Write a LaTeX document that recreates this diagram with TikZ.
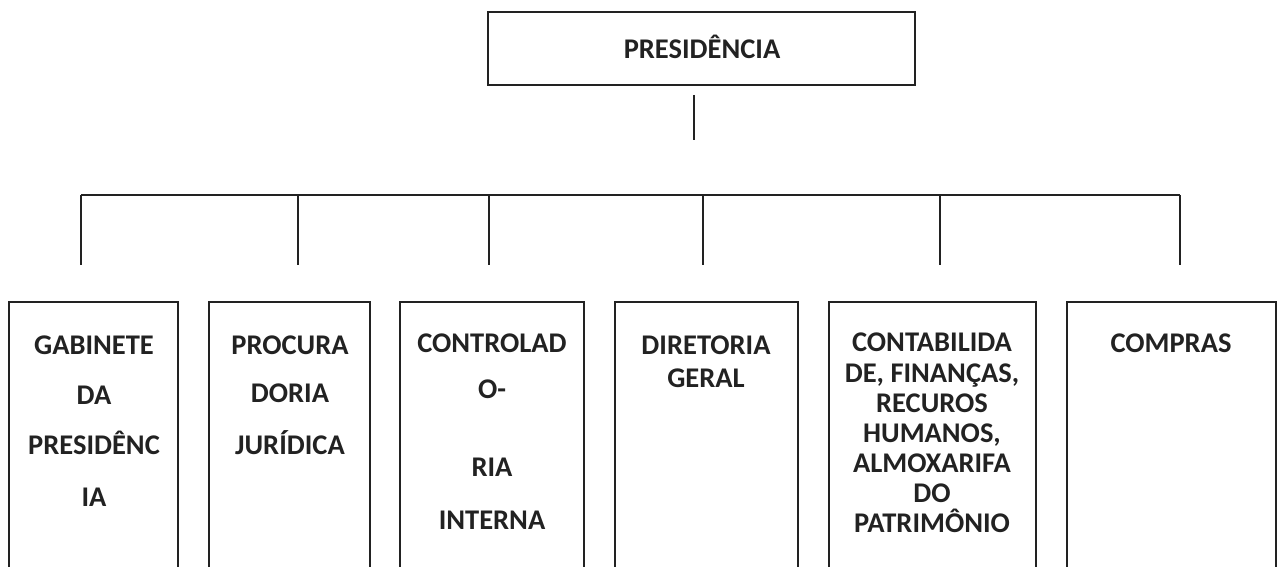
\documentclass[tikz,border=0pt]{standalone}
\usepackage{fontspec}
\setmainfont{Carlito}
\definecolor{ink}{HTML}{222222}
\begin{document}
\begin{tikzpicture}[x=1pt,y=-1pt,
  box/.style={draw=ink,line width=1.2pt},
  conn/.style={draw=ink,line width=1.4pt},
  lbl/.style={anchor=base,inner sep=0pt,text=ink,font=\fontsize{28.5}{30}\selectfont\bfseries}]
\useasboundingbox (0,0) rectangle (1278,567);
\clip (0,0) rectangle (1278,567);
% top box
\draw[box] (488,12) rectangle (915,85);
\node[lbl] (pres) at (702,59) {PRESIDÊNCIA};
% connectors
\coordinate (v1) at (694,95);
\coordinate (v2) at (694,140);
\draw[conn] (v1) -- (v2);
\coordinate (hl) at (81,195);
\coordinate (hr) at (1180,195);
\draw[conn] (hl) -- (hr);
\foreach \x/\n in {81/a,298/b,489/c,703/d,940/e,1180/f}{
  \coordinate (t\n) at (\x,195);
  \coordinate (b\n) at (\x,265);
  \draw[conn] (t\n) -- (b\n);
}
% boxes
\draw[box] (9,302) rectangle (178,600);
\draw[box] (209,302) rectangle (370,600);
\draw[box] (400,302) rectangle (584,600);
\draw[box] (615,302) rectangle (798,600);
\draw[box] (829,302) rectangle (1036,600);
\draw[box] (1067,302) rectangle (1276,600);
% box 1
\node[lbl] (g1) at (94,354) {GABINETE};
\node[lbl] (g2) at (94,404) {DA};
\node[lbl] (g3) at (94,454) {PRESIDÊNC};
\node[lbl] (g4) at (94,506) {IA};
% box 2
\node[lbl] (p1) at (290,354) {PROCURA};
\node[lbl] (p2) at (290,402) {DORIA};
\node[lbl] (p3) at (290,454) {JURÍDICA};
% box 3
\node[lbl] (c1) at (492,352) {CONTROLAD};
\node[lbl] (c2) at (492,398) {O-};
\node[lbl] (c3) at (492,476) {RIA};
\node[lbl] (c4) at (492,529) {INTERNA};
% box 4
\node[lbl] (d1) at (706,354) {DIRETORIA};
\node[lbl] (d2) at (706,387) {GERAL};
% box 5
\node[lbl] (f1) at (932,351) {CONTABILIDA};
\node[lbl] (f2) at (932,382) {DE, FINANÇAS,};
\node[lbl] (f3) at (932,412) {RECUROS};
\node[lbl] (f4) at (932,442) {HUMANOS,};
\node[lbl] (f5) at (932,472) {ALMOXARIFA};
\node[lbl] (f6) at (932,502) {DO};
\node[lbl] (f7) at (932,532) {PATRIMÔNIO};
% box 6
\node[lbl] (k1) at (1171,352) {COMPRAS};
\end{tikzpicture}
\end{document}
